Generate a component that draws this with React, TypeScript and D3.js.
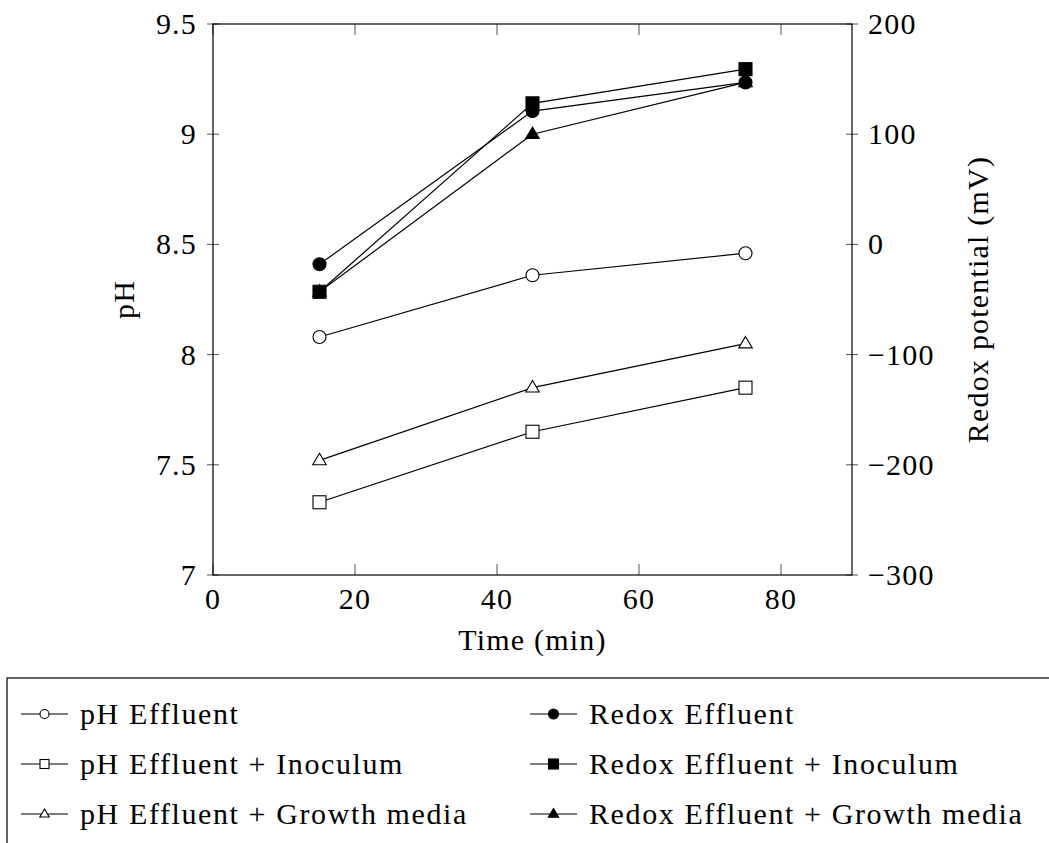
import React, { useEffect, useRef } from 'react';
import * as d3 from 'd3';

// time points (min)
const times = [15, 45, 75];

// pH series (left axis)
const phEffluent = [8.08, 8.36, 8.46];
const phInoculum = [7.33, 7.65, 7.85];
const phGrowth = [7.52, 7.85, 8.05];

// redox series (right axis, mV)
const redoxEffluent = [-18, 121, 147];
const redoxInoculum = [-43, 128, 159];
const redoxGrowth = [-43, 100, 147];

const xTicks = [0, 20, 40, 60, 80];
const phTicks = [7, 7.5, 8, 8.5, 9, 9.5];
const redoxTicks = [-300, -200, -100, 0, 100, 200];

const seriesList = [
  { name: 'pH Effluent', values: phEffluent, axis: 'ph', shape: 'circle', filled: false },
  { name: 'pH Effluent + Inoculum', values: phInoculum, axis: 'ph', shape: 'square', filled: false },
  { name: 'pH Effluent + Growth media', values: phGrowth, axis: 'ph', shape: 'triangle', filled: false },
  { name: 'Redox Effluent', values: redoxEffluent, axis: 'redox', shape: 'circle', filled: true },
  { name: 'Redox Effluent + Inoculum', values: redoxInoculum, axis: 'redox', shape: 'square', filled: true },
  { name: 'Redox Effluent + Growth media', values: redoxGrowth, axis: 'redox', shape: 'triangle', filled: true },
];

const FONT = '"Liberation Serif", "DejaVu Serif", serif';

const App = () => {
  const ref = useRef<SVGSVGElement>(null);
  const width = 1049;
  const height = 843;
  const margin = { top: 24, right: 197, bottom: 268, left: 213 };

  useEffect(() => {
    const svg = d3.select(ref.current);
    svg.selectAll('*').remove();

    const x = d3.scaleLinear().domain([0, 90]).range([margin.left, width - margin.right]);
    const yPh = d3.scaleLinear().domain([7, 9.5]).range([height - margin.bottom, margin.top]);
    const yRedox = d3.scaleLinear().domain([-300, 200]).range([height - margin.bottom, margin.top]);

    const x0 = margin.left;
    const x1 = width - margin.right;
    const y0 = height - margin.bottom;
    const y1 = margin.top;

    const drawMarker = (g, shape, filled, cx, cy, s) => {
      const fill = filled ? '#000' : '#fff';
      if (shape === 'circle') {
        g.append('circle').attr('cx', cx).attr('cy', cy).attr('r', s)
          .attr('fill', fill).attr('stroke', '#000').attr('stroke-width', 1.1);
      } else if (shape === 'square') {
        g.append('rect').attr('x', cx - s).attr('y', cy - s).attr('width', 2 * s).attr('height', 2 * s)
          .attr('fill', fill).attr('stroke', '#000').attr('stroke-width', 1.1);
      } else {
        const h = s * 1.1;
        g.append('path')
          .attr('d', `M${cx},${cy - h}L${cx + h * 0.95},${cy + h * 0.6}L${cx - h * 0.95},${cy + h * 0.6}Z`)
          .attr('fill', fill).attr('stroke', '#000').attr('stroke-width', 1.1);
      }
    };

    // ticks
    const ticks = svg.append('g').attr('stroke', '#555').attr('stroke-width', 1);
    xTicks.forEach((t) => {
      ticks.append('line').attr('x1', x(t)).attr('x2', x(t)).attr('y1', y0).attr('y2', y0 - 11);
      ticks.append('line').attr('x1', x(t)).attr('x2', x(t)).attr('y1', y1).attr('y2', y1 + 11);
    });
    phTicks.forEach((t) => {
      ticks.append('line').attr('x1', x0 - 6).attr('x2', x0 + 6).attr('y1', yPh(t)).attr('y2', yPh(t));
    });
    redoxTicks.forEach((t) => {
      ticks.append('line').attr('x1', x1 - 6).attr('x2', x1 + 6).attr('y1', yRedox(t)).attr('y2', yRedox(t));
    });

    // frame
    svg.append('rect')
      .attr('x', x0).attr('y', y1).attr('width', x1 - x0).attr('height', y0 - y1)
      .attr('fill', 'none').attr('stroke', '#000').attr('stroke-width', 1.2);

    // tick labels
    const labels = svg.append('g').style('font-family', FONT).style('font-size', '30px')
      .style('letter-spacing', '1.2px').attr('fill', '#000');
    xTicks.forEach((t) => {
      labels.append('text').attr('x', x(t)).attr('y', y0 + 34).attr('text-anchor', 'middle').text(t);
    });
    phTicks.forEach((t) => {
      labels.append('text').attr('x', x0 - 16).attr('y', yPh(t) + 10).attr('text-anchor', 'end').text(t);
    });
    redoxTicks.forEach((t) => {
      labels.append('text').attr('x', x1 + 16).attr('y', yRedox(t) + 10).attr('text-anchor', 'start')
        .text(t < 0 ? `\u2212${Math.abs(t)}` : t);
    });

    // axis titles
    labels.append('text').attr('x', (x0 + x1) / 2).attr('y', y0 + 75).attr('text-anchor', 'middle').text('Time (min)');
    labels.append('text').attr('transform', `translate(134, ${(y0 + y1) / 2}) rotate(-90)`)
      .attr('text-anchor', 'middle').text('pH');
    labels.append('text').attr('transform', `translate(988, ${(y0 + y1) / 2}) rotate(-90)`)
      .attr('text-anchor', 'middle').text('Redox potential (mV)');

    // series
    seriesList.forEach((s) => {
      const yS = s.axis === 'ph' ? yPh : yRedox;
      const line = d3.line<number>().x((d, i) => x(times[i])).y((d) => yS(d));
      const g = svg.append('g');
      g.append('path').datum(s.values).attr('d', line)
        .attr('fill', 'none').attr('stroke', '#000').attr('stroke-width', 1.2);
      s.values.forEach((v, i) => {
        drawMarker(g, s.shape, s.filled, x(times[i]), yS(v), 6.5);
      });
    });

    // legend
    const legend = svg.append('g');
    legend.append('rect').attr('x', 7).attr('y', 678).attr('width', 1100).attr('height', 300)
      .attr('fill', '#fff').attr('stroke', '#000').attr('stroke-width', 1.2);
    seriesList.forEach((s, i) => {
      const col = i < 3 ? 0 : 1;
      const row = i % 3;
      const lx = col === 0 ? 21 : 530;
      const ly = 714 + row * 50;
      legend.append('line').attr('x1', lx).attr('x2', lx + 47).attr('y1', ly).attr('y2', ly)
        .attr('stroke', '#000').attr('stroke-width', 1.2);
      drawMarker(legend, s.shape, s.filled, lx + 23.5, ly, s.filled ? 5 : 4.5);
      legend.append('text').attr('x', lx + 59).attr('y', ly + 10)
        .style('font-family', FONT).style('font-size', '30px').style('letter-spacing', '1.6px')
        .text(s.name);
    });
  }, []);

  return (
    <svg
      ref={ref}
      width={width}
      height={height}
      style={{ position: 'absolute', top: 0, left: 0, background: '#fff' }}
    />
  );
};

export default App;
